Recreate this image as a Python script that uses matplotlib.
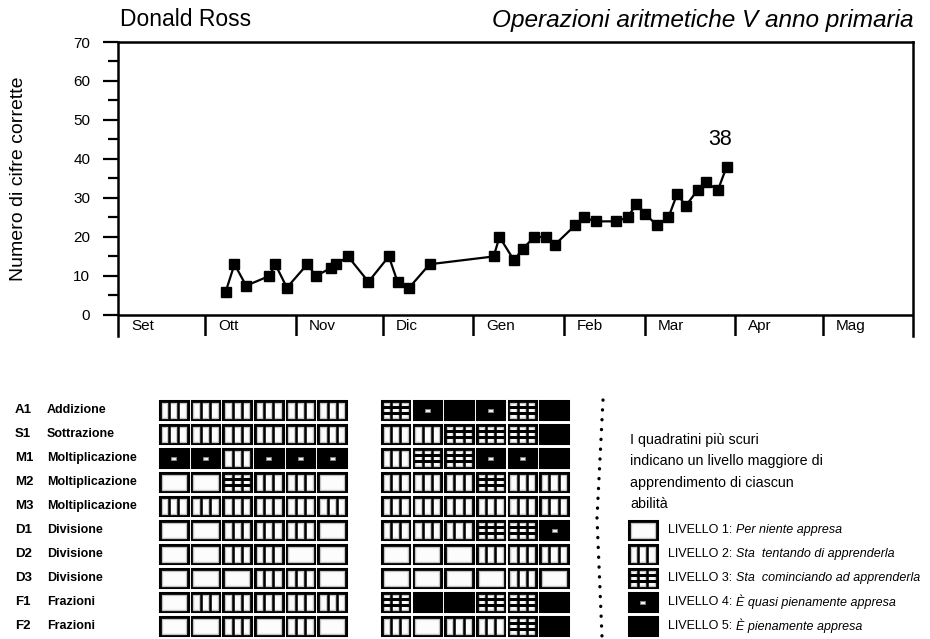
import matplotlib
matplotlib.use('Agg')
import matplotlib.pyplot as plt
import matplotlib.transforms as mtransforms
from matplotlib import font_manager
from matplotlib.lines import Line2D
from matplotlib.patches import Rectangle
import numpy as np

# --- dati grafico ---
mesi = ['Set', 'Ott', 'Nov', 'Dic', 'Gen', 'Feb', 'Mar', 'Apr', 'Mag']
giorni_mese = [30, 31, 30, 31, 31, 28, 31, 30, 31]

# giorno dal 1 settembre, cifre corrette
giorno = [37, 40, 44, 52, 54, 58, 65, 68, 73, 75, 79, 86, 93, 96, 100, 107,
          129, 131, 136, 139, 143, 147, 150, 157, 160, 164, 171, 175, 178,
          181, 185, 189, 192, 195, 199, 202, 206, 209]
cifre = [6, 13, 7.5, 10, 13, 7, 13, 10, 12, 13, 15, 8.5, 15, 8.5, 7, 13,
         15, 20, 14, 17, 20, 20, 18, 23, 25, 24, 24, 25, 28.5,
         26, 23, 25, 31, 28, 32, 34, 32, 38]

# --- dati abilita ---
codici = ['A1', 'S1', 'M1', 'M2', 'M3', 'D1', 'D2', 'D3', 'F1', 'F2']
abilita = ['Addizione', 'Sottrazione', 'Moltiplicazione', 'Moltiplicazione',
           'Moltiplicazione', 'Divisione', 'Divisione', 'Divisione',
           'Frazioni', 'Frazioni']
livelli_prima = [
    [2, 2, 2, 2, 2, 2],
    [2, 2, 2, 2, 2, 2],
    [4, 4, 2, 4, 4, 4],
    [1, 1, 3, 2, 2, 1],
    [2, 2, 2, 2, 2, 2],
    [1, 1, 2, 2, 2, 1],
    [1, 1, 2, 2, 1, 1],
    [1, 1, 1, 2, 2, 1],
    [1, 2, 2, 2, 2, 2],
    [1, 1, 2, 1, 2, 1],
]
livelli_dopo = [
    [3, 4, 5, 4, 3, 5],
    [2, 2, 3, 3, 3, 5],
    [2, 3, 3, 4, 4, 5],
    [2, 2, 2, 3, 2, 2],
    [2, 2, 2, 2, 2, 2],
    [2, 2, 2, 3, 3, 4],
    [1, 1, 1, 2, 2, 2],
    [1, 1, 1, 1, 2, 1],
    [3, 5, 5, 3, 3, 5],
    [2, 1, 2, 2, 3, 5],
]

nota = ['I quadratini più scuri', 'indicano un livello maggiore di',
        'apprendimento di ciascun', 'abilità']
legenda_livelli = [1, 2, 3, 4, 5]
legenda_testo = ['Per niente appresa', 'Sta  tentando di apprenderla',
                 'Sta  cominciando ad apprenderla', 'È quasi pienamente appresa',
                 'È pienamente appresa']

# font stretto se disponibile
try:
    font_manager.findfont('Liberation Sans Narrow', fallback_to_default=False)
    NARROW, NSCALE = 'Liberation Sans Narrow', 1.0
except ValueError:
    NARROW, NSCALE = 'Liberation Sans', 0.82

plt.rcParams['font.family'] = ['Liberation Sans', 'DejaVu Sans']

W, H = 930, 639
fig = plt.figure(figsize=(W / 100, H / 100), dpi=100)


def fx(x):
    return x / W


def fy(y):
    return 1 - y / H


# --- grafico principale ---
ax = fig.add_axes([fx(118), fy(336), fx(795), 294 / H])
ax.plot(giorno, cifre, color='black', lw=1.6, marker='s', ms=6.5,
        mfc='black', mec='black')
bordi = np.cumsum([0] + giorni_mese)
ax.set_xlim(bordi[0], bordi[-1])
ax.set_ylim(-5.4, 70)
ax.axhline(0, color='black', lw=1.8)
ax.vlines(bordi[1:-1], -5.4, 0, color='black', lw=1.8)
for b, m in zip(bordi[:-1], mesi):
    ax.text(b + 4.5, -2.9, m, ha='left', va='center', fontsize=11)

for s in ['top', 'left', 'right']:
    ax.spines[s].set_linewidth(1.8)
ax.spines['bottom'].set_visible(False)
ax.set_xticks([])
ax.set_yticks(np.arange(0, 71, 10))
ax.set_yticks(np.arange(5, 70, 10), minor=True)
ax.tick_params(axis='y', which='major', length=11, width=1.6, pad=9,
               labelsize=11)
ax.tick_params(axis='y', which='minor', length=7, width=1.6)
ax.set_ylabel('Numero di cifre corrette', fontsize=14)
ax.yaxis.set_label_coords(-0.114, 0.535)

ax.annotate(f'{cifre[-1]:g}', (giorno[-1], cifre[-1]), xytext=(-5, 12),
            textcoords='offset points', ha='center', va='bottom',
            fontsize=15.5)

fig.text(fx(120), fy(20), 'Donald Ross', fontsize=16.5, va='center')
fig.text(fx(913), fy(20), 'Operazioni aritmetiche V anno primaria',
         fontsize=17.6, style='italic', ha='right', va='center')

# --- griglia abilita ---
CW, CH = 0.87, 0.77
axg = fig.add_axes([fx(160), fy(641), fx(507), 240 / H])
axg.set_xlim(0, 16)
axg.set_ylim(10, 0)
axg.axis('off')


def cella(x0, y0, liv):
    scuro = liv >= 4
    dx, dy = 0.055, 0.075
    axg.add_patch(Rectangle((x0, y0), CW, CH, facecolor='black' if scuro else '#fcfcfc',
                            edgecolor='black', lw=2.2, clip_on=False, zorder=2))
    if liv == 4:
        axg.add_patch(Rectangle((x0 + CW * 0.41, y0 + CH * 0.41), CW * 0.18, CH * 0.18,
                                facecolor='#eeeeee', edgecolor='#888888', lw=0.6,
                                clip_on=False, zorder=3))
    if scuro:
        return
    axg.add_patch(Rectangle((x0 + dx, y0 + dy), CW - 2 * dx, CH - 2 * dy,
                            facecolor='none', edgecolor='#c4c4c4', lw=0.9,
                            clip_on=False, zorder=2.5))
    if liv >= 2:
        for k in (1, 2):
            xv = x0 + CW * k / 3
            # alone grigio solo all'interno, linea nera sopra
            axg.plot([xv, xv], [y0 + dy, y0 + CH - dy], color='#cccccc', lw=2.8,
                     clip_on=False, solid_capstyle='butt', zorder=2.6)
            axg.plot([xv, xv], [y0, y0 + CH], color='black', lw=1.8, clip_on=False,
                     solid_capstyle='butt', zorder=2.7)
    if liv == 3:
        for k in (1, 2):
            yh = y0 + CH * k / 3
            axg.plot([x0, x0 + CW], [yh, yh], color='black', lw=2.2, clip_on=False,
                     solid_capstyle='butt', zorder=2.8)


for r in range(len(codici)):
    for c, liv in enumerate(livelli_prima[r]):
        cella(c, r, liv)
    for c, liv in enumerate(livelli_dopo[r]):
        cella(7 + c, r, liv)

trans_g = mtransforms.blended_transform_factory(fig.transFigure, axg.transData)
for r, (cod, nome) in enumerate(zip(codici, abilita)):
    axg.text(fx(15), r + CH / 2, cod, transform=trans_g, fontsize=9.5,
             fontweight='bold', va='center')
    axg.text(fx(47), r + CH / 2, nome, transform=trans_g, fontsize=9,
             fontweight='bold', va='center')

# separatore punteggiato
fig.add_artist(Line2D([fx(603), fx(597), fx(602)], [fy(400), fy(518), fy(637)],
                      transform=fig.transFigure, color='black', lw=2.4,
                      linestyle=(0, (0.05, 2.9)), dash_capstyle='round'))

# --- legenda ---
for i, riga in enumerate(nota):
    fig.text(fx(630), fy(440 + 21.4 * i), riga, family=NARROW,
             fontsize=12.5 * NSCALE, va='center')

etichette = []
for i, liv in enumerate(legenda_livelli):
    r = 5 + i
    cella(14.8, r, liv)
    t = axg.text(fx(668), r + CH / 2, f'LIVELLO {liv}:', transform=trans_g,
                 family=NARROW, fontsize=11 * NSCALE, va='center')
    etichette.append(t)

fig.canvas.draw()
renderer = fig.canvas.get_renderer()
for i, t in enumerate(etichette):
    bb = t.get_window_extent(renderer)
    axg.text(bb.x1 / W + fx(4), 5 + i + CH / 2, legenda_testo[i], transform=trans_g,
             family=NARROW, fontsize=11 * NSCALE, style='italic', va='center')

fig.savefig('out.png', dpi=100)
